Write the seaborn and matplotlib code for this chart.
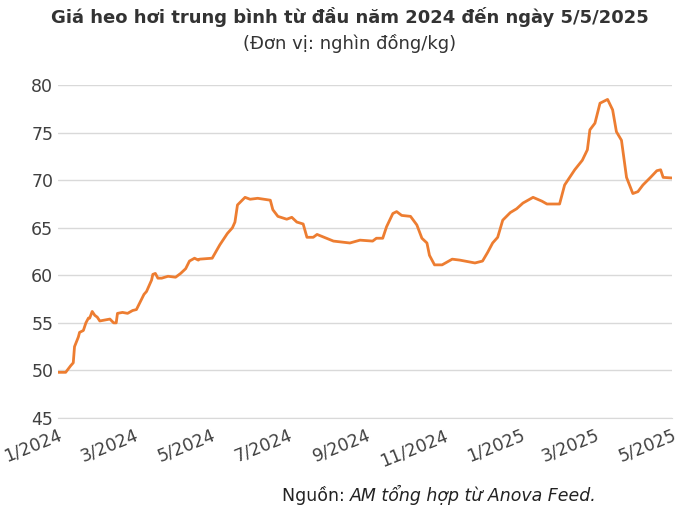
import numpy as np
import pandas as pd
import matplotlib
matplotlib.use('Agg')
import matplotlib.pyplot as plt
import matplotlib.dates as mdates
import seaborn as sns

# --- DATA (days since 1/1/2024, price in thousand VND/kg) ---
days = [0, 6, 10, 12, 13, 16, 17, 20, 22, 24, 25, 27, 29, 31, 33, 41, 44, 46, 47, 51,
        55, 59, 62, 65, 68, 70, 74, 75, 77, 79, 82, 87, 93, 97, 101, 104, 108, 111, 112,
        122, 128, 134, 138, 140, 142, 148, 152, 158, 168, 170, 174, 181, 185, 189, 194,
        197, 202, 205, 218, 231, 239, 249, 252, 257, 260, 265, 268, 272, 279, 284, 288,
        292, 294, 298, 304, 312, 318, 326, 330, 336, 340, 344, 348, 352, 358, 363, 368,
        376, 383, 387, 397, 401, 405, 409, 415, 419, 421, 425, 429, 435, 439, 442, 446,
        450, 455, 459, 463, 469, 474, 477, 479, 490]
prices = [49.8, 49.8, 50.5, 50.8, 52.5, 53.5, 54.0, 54.2, 55.0, 55.5, 55.5, 56.2, 55.8,
          55.6, 55.2, 55.4, 55.0, 55.0, 56.0, 56.1, 56.0, 56.3, 56.4, 57.2, 58.0, 58.3,
          59.5, 60.1, 60.2, 59.7, 59.7, 59.9, 59.8, 60.2, 60.7, 61.5, 61.8, 61.6, 61.7,
          61.8, 63.2, 64.4, 65.0, 65.6, 67.4, 68.2, 68.0, 68.1, 67.9, 66.9, 66.2, 65.9,
          66.1, 65.6, 65.4, 64.0, 64.0, 64.3, 63.6, 63.4, 63.7, 63.6, 63.9, 63.9, 65.1,
          66.5, 66.7, 66.3, 66.2, 65.3, 63.9, 63.4, 62.1, 61.1, 61.1, 61.7, 61.6, 61.4,
          61.3, 61.5, 62.4, 63.4, 64.0, 65.8, 66.6, 67.0, 67.6, 68.2, 67.8, 67.5, 67.5,
          69.5, 70.3, 71.1, 72.1, 73.2, 75.3, 76.0, 78.1, 78.5, 77.4, 75.1, 74.2, 70.3,
          68.6, 68.8, 69.5, 70.3, 71.0, 71.1, 70.3, 70.2]

df = pd.DataFrame({'date': pd.Timestamp('2024-01-01') + pd.to_timedelta(days, unit='D'),
                   'price': prices})

sns.set_style('white')
plt.rcParams['font.family'] = ['DejaVu Sans']

fig, ax = plt.subplots(figsize=(7.0, 5.16), dpi=100)
sns.lineplot(data=df, x='date', y='price', color='#ED7D31', linewidth=2, ax=ax)

ax.set_ylim(45, 80)
ax.set_yticks(range(45, 81, 5))
ax.set_xlim(pd.Timestamp('2024-01-01'), pd.Timestamp('2025-05-01'))
ax.xaxis.set_major_locator(mdates.MonthLocator(bymonth=[1, 3, 5, 7, 9, 11]))
ax.xaxis.set_major_formatter(mdates.DateFormatter('%-m/%Y'))
ax.yaxis.grid(True, color='#d9d9d9', linewidth=1)
for s in ['top', 'right', 'left']:
    ax.spines[s].set_visible(False)
ax.spines['bottom'].set_color('#d9d9d9')
ax.tick_params(axis='x', colors='#404040', labelsize=12.5, length=0, pad=6)
ax.tick_params(axis='y', colors='#404040', labelsize=12.5, length=0)
plt.setp(ax.get_xticklabels(), rotation=22, ha='right', rotation_mode='anchor')
ax.set_xlabel('')
ax.set_ylabel('')

fig.text(0.5, 0.955, 'Giá heo hơi trung bình từ đầu năm 2024 đến ngày 5/5/2025',
         ha='center', fontsize=13, fontweight='bold', color='#333333')
fig.text(0.5, 0.905, '(Đơn vị: nghìn đồng/kg)', ha='center', fontsize=13, color='#333333')
fig.text(0.5, 0.03, 'Nguồn: ', ha='right', fontsize=12.5, color='#222222')
fig.text(0.5, 0.03, 'AM tổng hợp từ Anova Feed.', ha='left', fontsize=12.5,
         style='italic', color='#222222')

fig.subplots_adjust(left=0.083, right=0.96, top=0.835, bottom=0.19)
fig.savefig('out.png', dpi=100)
